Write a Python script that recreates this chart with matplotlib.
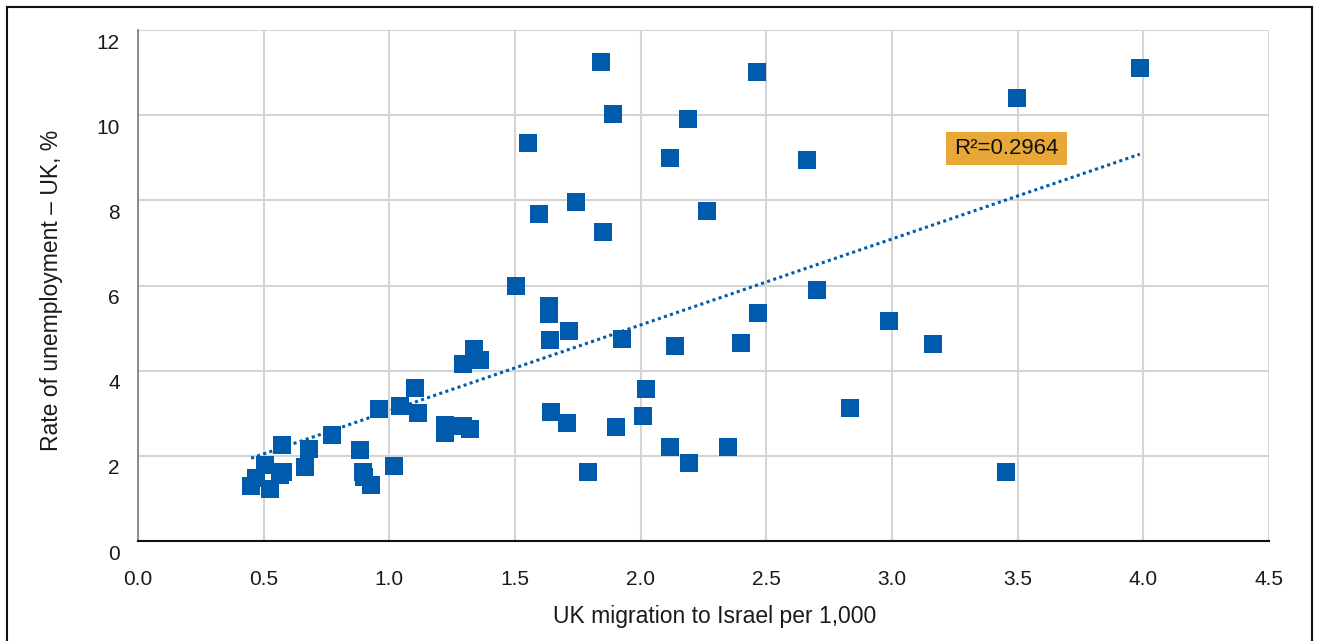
import numpy as np
import matplotlib
matplotlib.use("Agg")
import matplotlib.pyplot as plt
from matplotlib.transforms import ScaledTranslation
from matplotlib.lines import Line2D
from matplotlib.patches import Rectangle

plt.rcParams['font.family'] = ['Liberation Sans', 'DejaVu Sans']

# UK migration to Israel per 1,000
migration = [0.45, 0.47, 0.505, 0.525, 0.573, 0.565, 0.578, 0.664, 0.68, 0.771,
             0.883, 0.895, 0.899, 0.926, 0.958, 1.018, 1.042, 1.101, 1.113, 1.221,
             1.221, 1.293, 1.322, 1.293, 1.337, 1.361, 1.504, 1.552, 1.596, 1.635,
             1.635, 1.639, 1.643, 1.707, 1.715, 1.743, 1.79, 1.842, 1.85, 1.89,
             1.902, 1.925, 2.009, 2.021, 2.117, 2.117, 2.136, 2.188, 2.192, 2.264,
             2.347, 2.399, 2.463, 2.467, 2.662, 2.70, 2.832, 2.99, 3.163, 3.453,
             3.497, 3.986]
# Rate of unemployment - UK, %
unemployment = [1.28, 1.47, 1.78, 1.21, 2.26, 1.55, 1.61, 1.73, 2.15, 2.50,
                2.13, 1.61, 1.50, 1.31, 3.09, 1.75, 3.18, 3.59, 3.00, 2.72,
                2.53, 2.71, 2.62, 4.15, 4.52, 4.24, 5.98, 9.34, 7.67, 5.53,
                5.32, 4.71, 3.02, 2.76, 4.92, 7.95, 1.61, 11.25, 7.25, 10.02,
                2.67, 4.74, 2.93, 3.56, 8.99, 2.20, 4.57, 9.90, 1.83, 7.74,
                2.20, 4.64, 11.01, 5.35, 8.94, 5.89, 3.12, 5.16, 4.62, 1.61,
                10.40, 11.10]

x_ticks = [0.0, 0.5, 1.0, 1.5, 2.0, 2.5, 3.0, 3.5, 4.0, 4.5]
y_ticks = [0, 2, 4, 6, 8, 10, 12]
x_tick_labels = ["0.0", "0.5", "1.0", "1.5", "2.0", "2.5", "3.0", "3.5", "4.0", "4.5"]
y_tick_labels = ["0", "2", "4", "6", "8", "10", "12"]
r2_label = "R²=0.2964"

BLUE = "#005BAC"
ORANGE = "#E8A838"

fig = plt.figure(figsize=(13.2, 6.41), dpi=100)
ax = fig.add_axes([138 / 1320, 1 - 541 / 641, (1269 - 138) / 1320, (541 - 30) / 641])

x = np.array(migration)
y = np.array(unemployment)

ax.plot(x, y, linestyle='none', marker='s', markersize=12.5, color=BLUE,
        markeredgewidth=0, zorder=4)

# linear trend line (drawn beneath the markers)
slope, intercept = np.polyfit(x, y, 1)
xl = np.array([x.min(), x.max()])
ax.plot(xl, slope * xl + intercept, linestyle=(0, (1, 1.1)), linewidth=2.2,
        color=BLUE, zorder=3)

# R² label box
ax.add_patch(Rectangle((3.215, 8.83), 0.482, 0.78, facecolor=ORANGE, edgecolor='none', zorder=5))
ax.text(3.456, 9.22, r2_label, fontsize=16, color='#111111', ha='center', va='center', zorder=6)

ax.set_xlim(0, 4.5)
ax.set_ylim(0, 12)
ax.set_xticks(x_ticks)
ax.set_xticklabels(x_tick_labels)
ax.set_yticks(y_ticks)
ax.set_yticklabels(y_tick_labels)
ax.grid(True, color='#d4d4d4', linewidth=1.5)
ax.set_axisbelow(True)
ax.tick_params(axis='both', length=0, labelsize=15, colors='#1a1a1a')
ax.tick_params(axis='x', pad=21)
ax.tick_params(axis='y', pad=13)
for lbl in ax.get_yticklabels():
    lbl.set_transform(lbl.get_transform() + ScaledTranslation(0, -11 / 100, fig.dpi_scale_trans))

for s in ['top', 'right']:
    ax.spines[s].set_visible(False)
ax.spines['left'].set_color('#7a7a7a')
ax.spines['left'].set_linewidth(1.2)
ax.spines['bottom'].set_color('#111111')
ax.spines['bottom'].set_linewidth(1.5)

fig.text(715 / 1320, 1 - 616 / 641, "UK migration to Israel per 1,000", fontsize=16.5,
         ha='center', va='center', color='#1a1a1a')
fig.text(52 / 1320, 1 - 290 / 641, "Rate of unemployment – UK, %", fontsize=16.5,
         ha='center', va='center', rotation=90, color='#1a1a1a')

# outer frame (top, left, right)
for xs, ys in [([7, 1312], [7, 7]), ([7, 7], [7, 641]), ([1312, 1312], [7, 641])]:
    fig.add_artist(Line2D([v / 1320 for v in xs], [1 - v / 641 for v in ys],
                          color='#111111', linewidth=1.5, transform=fig.transFigure))

fig.savefig("out.png", dpi=100)
